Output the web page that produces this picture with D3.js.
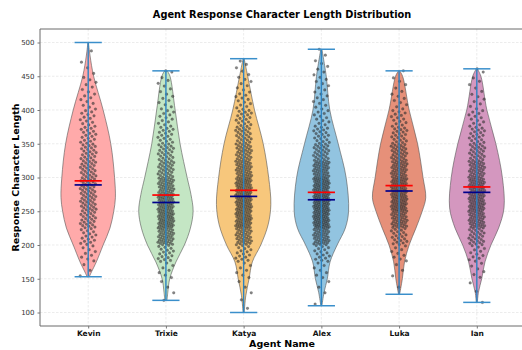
<!DOCTYPE html>
<html>
<head>
<meta charset="utf-8">
<script src="https://cdn.jsdelivr.net/npm/d3@7"></script>
<style>
  body { margin: 0; background: #fff; }
  svg { display: block; font-family: "DejaVu Sans", sans-serif; }
</style>
</head>
<body>
<svg id="chart" width="522" height="350"></svg>
<script>
// agents in plotting order
const agents = ["Kevin", "Trixie", "Katya", "Alex", "Luka", "Ian"];
const fills = ["#ffaaaa", "#c4e6c4", "#f7c77c", "#92c4e0", "#e69079", "#d497bf"];

// extremes, mean and median
const mins = [153, 118, 100, 110, 127, 115];
const maxs = [500, 458, 476, 490, 458, 461];
const means = [295, 274, 281, 278, 288, 286];
const medians = [289, 263, 272, 267, 280, 278];

// violin outline: [value, relative half width]
const profKevin = [[153,0.04],[160,0.12],[175,0.3],[200,0.55],[225,0.8],[250,0.94],[270,1.0],[300,0.97],[350,0.83],[400,0.55],[450,0.2],[480,0.07],[500,0.01]];
const profTrixie = [[118,0.04],[130,0.07],[150,0.14],[175,0.37],[200,0.68],[225,0.9],[250,1.0],[275,0.92],[300,0.78],[350,0.52],[400,0.34],[450,0.15],[458,0.05]];
const profKatya = [[100,0.02],[125,0.08],[150,0.2],[175,0.32],[200,0.63],[230,0.9],[260,1.0],[300,0.92],[350,0.72],[400,0.4],[450,0.15],[476,0.02]];
const profAlex = [[110,0.02],[130,0.1],[150,0.22],[175,0.32],[200,0.58],[225,0.88],[250,1.0],[300,0.91],[350,0.62],[400,0.31],[450,0.18],[490,0.02]];
const profLuka = [[127,0.02],[150,0.12],[175,0.2],[200,0.37],[225,0.62],[250,0.85],[270,0.98],[300,0.88],[350,0.68],[400,0.37],[450,0.13],[458,0.02]];
const profIan = [[115,0.02],[130,0.06],[150,0.18],[175,0.3],[200,0.52],[225,0.8],[255,1.0],[300,0.94],[350,0.7],[400,0.37],[450,0.15],[461,0.02]];
const profiles = [profKevin, profTrixie, profKatya, profAlex, profLuka, profIan];

// how many dots fall in each 25-char bin, 100..500
const binStarts = [100,125,150,175,200,225,250,275,300,325,350,375,400,425,450,475];
const cntKevin  = [0,0,3,9,16,24,28,28,26,22,17,13,9,7,3,1];
const cntTrixie = [1,3,7,18,40,50,48,40,31,24,17,12,8,6,2,0];
const cntKatya  = [2,3,7,16,36,48,50,48,40,33,26,19,12,8,5,0];
const cntAlex   = [1,3,7,16,40,56,58,52,42,28,19,12,9,8,6,2];
const cntLuka   = [0,1,3,9,21,38,48,45,38,31,21,14,8,5,1,0];
const cntIan    = [1,2,6,12,26,40,45,43,36,26,19,12,7,5,2,0];
const counts = [cntKevin, cntTrixie, cntKatya, cntAlex, cntLuka, cntIan];

const yTicks = [100,150,200,250,300,350,400,450,500];

const svg = d3.select("#chart");
const margin = {left: 40, top: 29, bottom: 326, right: 525};

const x = d3.scaleLinear().domain([-0.62, 5.62]).range([margin.left, margin.right]);
const y = d3.scaleLinear().domain([80, 520]).range([margin.bottom, margin.top]);
const halfW = x(0.35) - x(0);
const capW = x(0.175) - x(0);

// grid
const grid = svg.append("g").attr("stroke", "#e4e4e4").attr("stroke-width", 0.7).attr("stroke-dasharray", "2.5,1.5");
grid.selectAll(".gy").data(yTicks).enter().append("line")
    .attr("x1", margin.left).attr("x2", margin.right)
    .attr("y1", d => y(d)).attr("y2", d => y(d));
grid.selectAll(".gx").data(agents).enter().append("line")
    .attr("x1", (d, i) => x(i)).attr("x2", (d, i) => x(i))
    .attr("y1", margin.top).attr("y2", margin.bottom);

// violins
const area = d3.area()
    .curve(d3.curveCatmullRom)
    .y(d => y(d[0]));

profiles.forEach((prof, i) => {
    const cx = x(i);
    svg.append("path")
        .datum(prof)
        .attr("d", area.x0(d => cx - d[1] * halfW).x1(d => cx + d[1] * halfW))
        .attr("fill", fills[i])
        .attr("stroke", "#555")
        .attr("stroke-width", 0.6);
});

// bars, caps
const lines = svg.append("g");
agents.forEach((a, i) => {
    const cx = x(i);
    lines.append("line").attr("x1", cx).attr("x2", cx)
        .attr("y1", y(mins[i])).attr("y2", y(maxs[i]))
        .attr("stroke", "#2b83c3").attr("stroke-width", 1.4);
    [mins[i], maxs[i]].forEach(v => {
        lines.append("line").attr("x1", cx - capW).attr("x2", cx + capW)
            .attr("y1", y(v)).attr("y2", y(v))
            .attr("stroke", "#3a8fcb").attr("stroke-width", 1.5);
    });
});

// jittered dots
const dots = svg.append("g");
counts.forEach((cnt, i) => {
    const cx = x(i);
    let k = 0;
    cnt.forEach((n, b) => {
        for (let j = 0; j < n; j++) {
            let v = binStarts[b] + (j + 0.5) / n * 25;
            v = Math.max(mins[i], Math.min(maxs[i], v));
            const f = ((k * 0.618034 + i * 0.37) % 1) - 0.5;
            k++;
            dots.append("circle")
                .attr("cx", cx + f * 16)
                .attr("cy", y(v))
                .attr("r", 1.35)
                .attr("fill", "#333")
                .attr("fill-opacity", 0.6)
                .attr("stroke", "#1a1a1a")
                .attr("stroke-opacity", 0.5)
                .attr("stroke-width", 0.3);
        }
    });
});

// mean and median
agents.forEach((a, i) => {
    const cx = x(i);
    lines.append("line").attr("x1", cx - capW).attr("x2", cx + capW)
        .attr("y1", y(means[i])).attr("y2", y(means[i]))
        .attr("stroke", "#ff0000").attr("stroke-width", 1.7);
    lines.append("line").attr("x1", cx - capW).attr("x2", cx + capW)
        .attr("y1", y(medians[i])).attr("y2", y(medians[i]))
        .attr("stroke", "#00008b").attr("stroke-width", 1.7);
});
lines.raise();

// axes frame
const frame = svg.append("g").attr("stroke", "#6a6a6a").attr("stroke-width", 1);
frame.append("line").attr("x1", margin.left).attr("x2", margin.left).attr("y1", margin.top).attr("y2", margin.bottom);
frame.append("line").attr("x1", margin.left).attr("x2", 522).attr("y1", margin.bottom).attr("y2", margin.bottom);
frame.append("line").attr("x1", margin.left).attr("x2", 522).attr("y1", margin.top).attr("y2", margin.top);

// y axis
const yAxis = d3.axisLeft(y).tickValues(yTicks).tickSize(2.5).tickPadding(3);
const gy = svg.append("g").attr("transform", `translate(${margin.left},0)`).call(yAxis);
gy.select(".domain").remove();
gy.selectAll("line").attr("stroke", "#777");
gy.selectAll("text").attr("font-size", 7).attr("fill", "#333").attr("font-family", "DejaVu Sans");

// x axis
const xAxis = d3.axisBottom(x).tickValues(d3.range(agents.length)).tickFormat(i => agents[i]).tickSize(2.5).tickPadding(2.5);
const gx = svg.append("g").attr("transform", `translate(0,${margin.bottom})`).call(xAxis);
gx.select(".domain").remove();
gx.selectAll("line").attr("stroke", "#777");
gx.selectAll("text").attr("font-size", 7.5).attr("font-weight", "bold").attr("fill", "#111").attr("font-family", "DejaVu Sans");

// titles
svg.append("text").attr("x", 282).attr("y", 17.5).attr("text-anchor", "middle")
    .attr("font-size", 9.8).attr("font-weight", "bold").text("Agent Response Character Length Distribution");
svg.append("text").attr("x", 282).attr("y", 347).attr("text-anchor", "middle")
    .attr("font-size", 9.5).attr("font-weight", "bold").text("Agent Name");
svg.append("text").attr("transform", "translate(18.5,177.5) rotate(-90)").attr("text-anchor", "middle")
    .attr("font-size", 9.5).attr("font-weight", "bold").text("Response Character Length");
</script>
</body>
</html>
